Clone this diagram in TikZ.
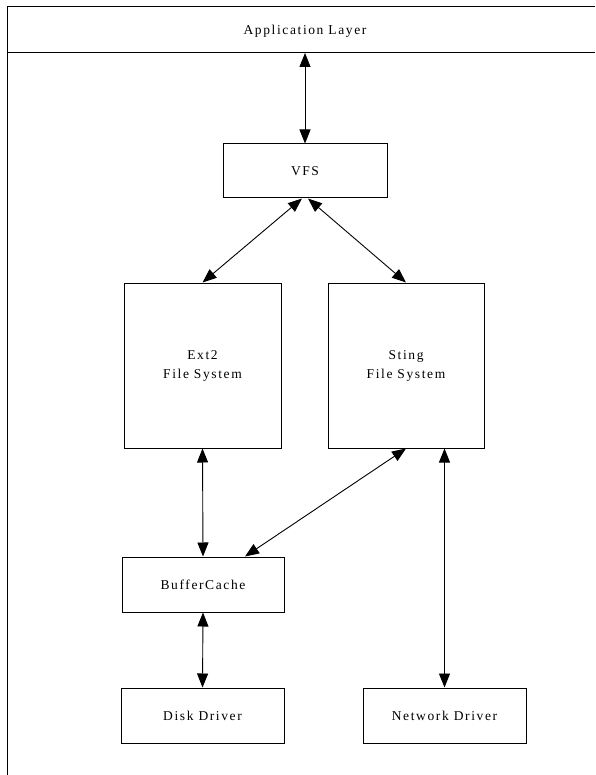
\documentclass[tikz,border=0pt]{standalone}
\usepackage{fontspec}
\setmainfont{Liberation Serif}
\newfontfamily\lblfont[LetterSpace=12]{Liberation Serif}
\usetikzlibrary{arrows.meta,calc}
\begin{document}
\begin{tikzpicture}[x=1pt,y=-1pt,
  box/.style={draw,line width=1pt,rectangle,inner sep=0pt,align=center,font=\lblfont\fontsize{13.5}{19}\selectfont},
  lbl/.style={inner sep=0pt,font=\lblfont\fontsize{13.5}{19}\selectfont},
  conn/.style={line width=0.9pt,{Triangle[length=14pt,width=11pt]}-{Triangle[length=14pt,width=11pt]}}]
\useasboundingbox (0,0) rectangle (595,775);
% application layer frame
\draw[line width=1pt] (595,7) -- (7,7) -- (7,775);
\draw[line width=1pt] (7,53) -- (595,53);
\node[lbl] (app) at (305,31) {Application Layer};
\coordinate (appb) at (305,53);
% boxes
\node[box,minimum width=164pt,minimum height=54pt] (vfs) at (305,171) {VFS};
\node[box,minimum width=157pt,minimum height=165pt] (ext2) at (202.5,365.5) {Ext2\\File System};
\node[box,minimum width=156pt,minimum height=165pt] (sting) at (406,365.5) {Sting\\File System};
\node[box,minimum width=162pt,minimum height=55pt] (buf) at (203,584.5) {BufferCache};
\node[box,minimum width=163pt,minimum height=55pt] (disk) at (202.5,715.5) {Disk Driver};
\node[box,minimum width=163pt,minimum height=55pt] (net) at (444.5,715.5) {Network Driver};
% connectors
\draw[conn] (appb) -- (vfs.north);
\draw[conn] ($(vfs.south)+(-3,0)$) -- (ext2.north);
\draw[conn] ($(vfs.south)+(3,0)$) -- (sting.north);
\draw[conn] (ext2.south) -- (buf.north);
\draw[conn] (sting.south) -- ($(buf.north)+(42,0)$);
\draw[conn] ($(sting.south)+(38.5,0)$) -- (net.north);
\draw[conn] (buf.south) -- (disk.north);
\end{tikzpicture}
\end{document}
